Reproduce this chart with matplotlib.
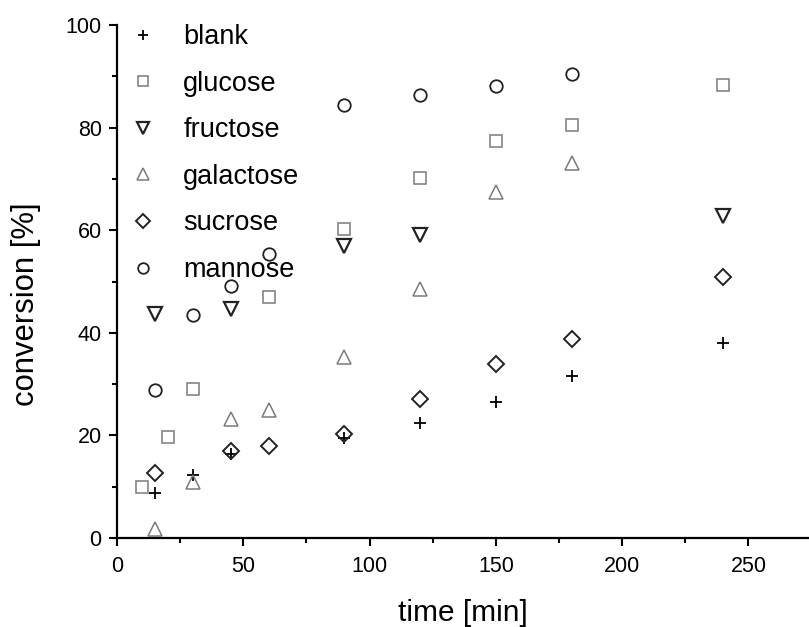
import matplotlib
matplotlib.use("Agg")
import matplotlib.pyplot as plt
from matplotlib.ticker import MultipleLocator

plt.rcParams['font.family'] = ['Liberation Sans', 'DejaVu Sans']

# conversion (%) versus reaction time (min) for each sugar additive
blank_t = [15, 30, 45, 90, 120, 150, 180, 240]
blank_c = [8.7, 12.3, 16.3, 19.5, 22.5, 26.5, 31.6, 38.1]

glucose_t = [10, 20, 30, 60, 90, 120, 150, 180, 240]
glucose_c = [9.9, 19.7, 29.0, 47.0, 60.3, 70.2, 77.3, 80.5, 88.3]

fructose_t = [15, 45, 90, 120, 240]
fructose_c = [43.7, 44.6, 57.0, 59.0, 62.8]

galactose_t = [15, 30, 45, 60, 90, 120, 150, 180]
galactose_c = [1.7, 11.0, 23.2, 25.0, 35.3, 48.6, 67.4, 73.1]

sucrose_t = [15, 45, 60, 90, 120, 150, 180, 240]
sucrose_c = [12.7, 17.0, 17.9, 20.3, 27.1, 33.9, 38.8, 50.9]

mannose_t = [15, 30, 45, 60, 90, 120, 150, 180]
mannose_c = [28.8, 43.5, 49.1, 55.3, 84.5, 86.4, 88.2, 90.4]

fig = plt.figure(figsize=(8.09, 6.27), dpi=100)
ax = fig.add_axes([117 / 809, 1 - 538 / 627, 1 - 117 / 809, (538 - 25) / 627])

dark = '#222222'
grey = '#7a7a7a'

ax.plot(blank_t, blank_c, ls='none', marker='+', ms=8, mew=1.3, color='black', label='blank')
ax.plot(glucose_t, glucose_c, ls='none', marker='s', ms=8, mfc='none', mec=grey, mew=1.1, label='glucose')
ax.plot(fructose_t, fructose_c, ls='none', marker='v', ms=10, mfc='none', mec=dark, mew=1.6, label='fructose')
ax.plot(galactose_t, galactose_c, ls='none', marker='^', ms=10, mfc='none', mec=grey, mew=1.1, label='galactose')
ax.plot(sucrose_t, sucrose_c, ls='none', marker='D', ms=8, mfc='none', mec=dark, mew=1.4, label='sucrose')
ax.plot(mannose_t, mannose_c, ls='none', marker='o', ms=9, mfc='none', mec=dark, mew=1.3, label='mannose')

ax.set_xlim(0, 274)
ax.set_ylim(0, 100)
ax.xaxis.set_major_locator(MultipleLocator(50))
ax.xaxis.set_minor_locator(MultipleLocator(25))
ax.yaxis.set_major_locator(MultipleLocator(20))
ax.yaxis.set_minor_locator(MultipleLocator(10))

for side in ('top', 'right'):
    ax.spines[side].set_visible(False)
for side in ('left', 'bottom'):
    ax.spines[side].set_linewidth(1.6)
    ax.spines[side].set_color('black')

ax.tick_params(which='major', direction='out', length=6, width=1.5, labelsize=15.5)
ax.tick_params(axis='x', which='major', pad=7)
ax.tick_params(axis='y', which='major', pad=5)
ax.tick_params(which='minor', direction='out', length=3.5, width=1.5)

ax.set_xlabel('time [min]', fontsize=21.5, labelpad=16)
ax.set_ylabel('conversion [%]', fontsize=22.3)
ax.yaxis.set_label_coords(-0.11, 0.455)

ax.legend(loc='upper left', bbox_to_anchor=(0.0, 1.037), frameon=False, fontsize=19.5,
          handlelength=0.6, handletextpad=1.18, labelspacing=0.76, borderaxespad=0.27,
          borderpad=0.4, markerscale=0.85)

fig.savefig('out.png', dpi=100)
